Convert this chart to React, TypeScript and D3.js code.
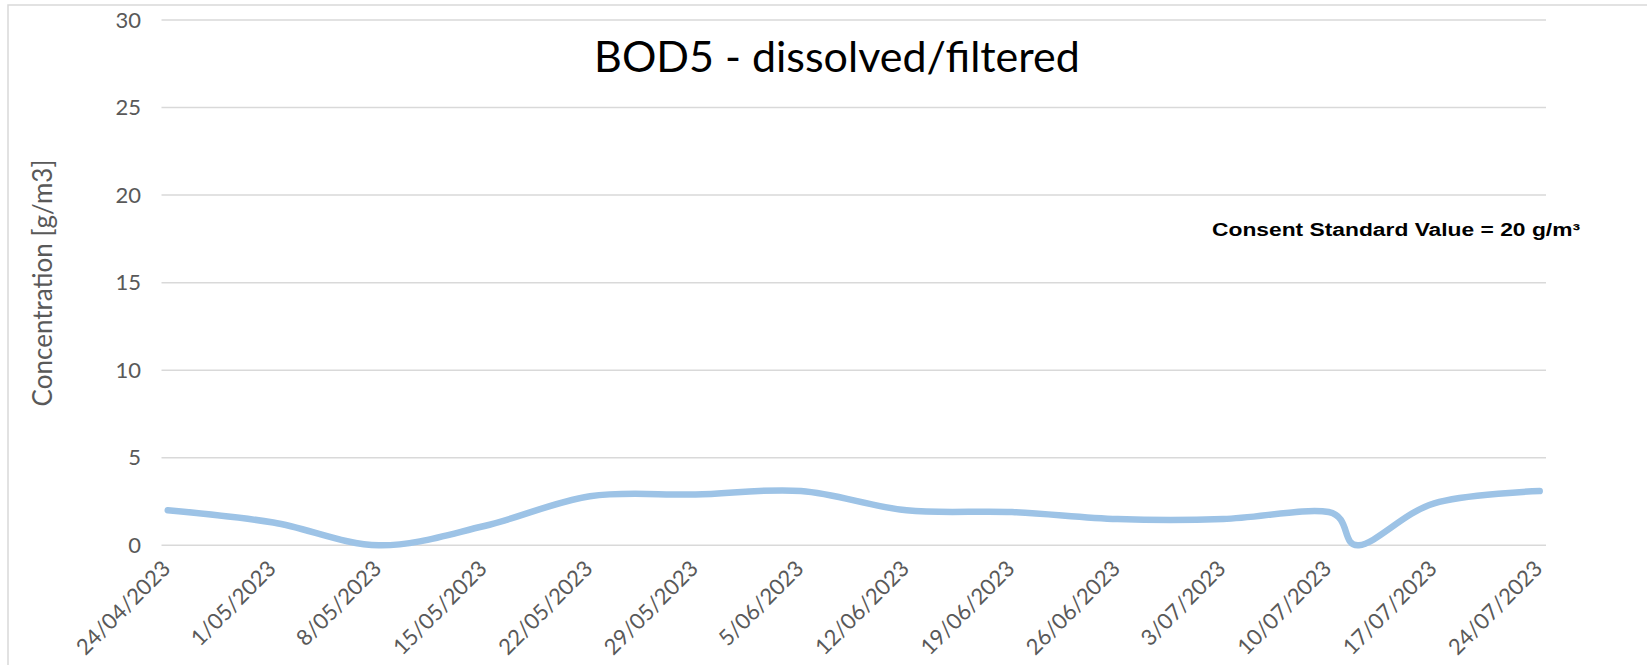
import React from "react";
import * as d3 from "d3";

// sample dates and BOD5 values (g/m3)
const sampleDates = [
	"2023-04-24", "2023-05-01", "2023-05-08", "2023-05-15", "2023-05-22",
	"2023-05-29", "2023-06-05", "2023-06-12", "2023-06-19", "2023-06-26",
	"2023-07-03", "2023-07-10", "2023-07-12", "2023-07-17", "2023-07-24",
];
const bodValues = [2.0, 1.3, 0, 1.1, 2.8, 2.9, 3.1, 2.0, 1.9, 1.5, 1.5, 1.9, 0, 2.4, 3.1];

const tickDates = [
	"2023-04-24", "2023-05-01", "2023-05-08", "2023-05-15", "2023-05-22",
	"2023-05-29", "2023-06-05", "2023-06-12", "2023-06-19", "2023-06-26",
	"2023-07-03", "2023-07-10", "2023-07-17", "2023-07-24",
];
const yTicks = [0, 5, 10, 15, 20, 25, 30];

const title = "BOD5 - dissolved/filtered";
const yTitle = "Concentration [g/m3]";
const note = "Consent Standard Value = 20 g/m³";

const W = 1647;
const H = 665;

const App: React.FC = () => {
	const parse = d3.timeParse("%Y-%m-%d");
	const fmt = d3.timeFormat("%-d/%m/%Y");
	const hour = 3600 * 1000;

	const first = parse(tickDates[0])!;
	const last = parse(tickDates[tickDates.length - 1])!;

	const x = d3
		.scaleTime()
		.domain([new Date(first.getTime() - 10 * hour), new Date(last.getTime() + 10 * hour)])
		.range([161.5, 1546]);

	const y = d3.scaleLinear().domain([0, 30]).range([545.3, 20]);

	const points = sampleDates.map((d, i) => ({date: parse(d)!, value: bodValues[i]}));

	const line = d3
		.line<{date: Date; value: number}>()
		.x((d) => x(d.date))
		.y((d) => y(d.value))
		.curve(d3.curveCardinal.tension(0));

	const gray = "#595959";
	const font = "Lato, 'Open Sans', sans-serif";

	return (
		<svg
			width={W}
			height={H}
			style={{position: "absolute", left: 0, top: 0, background: "#fff"}}
		>
			{/* chart area border */}
			<rect x={8} y={5} width={2000} height={1000} fill="#fff" stroke="#D9D9D9" strokeWidth={1.5} />

			{/* gridlines + y labels */}
			{yTicks.map((t) => (
				<g key={t}>
					<line x1={x.range()[0]} x2={x.range()[1]} y1={y(t)} y2={y(t)} stroke="#D9D9D9" strokeWidth={1.5} />
					<text x={141} y={y(t)} dy="0.35em" textAnchor="end" fontFamily={font} fontSize={22} fill={gray}>
						{t}
					</text>
				</g>
			))}

			{/* x labels */}
			{tickDates.map((d) => {
				const tx = x(parse(d)!);
				return (
					<text
						key={d}
						transform={`translate(${tx + 4}, 570) rotate(-45)`}
						textAnchor="end"
						fontFamily={font}
						fontSize={22}
						fill={gray}
					>
						{fmt(parse(d)!)}
					</text>
				);
			})}

			{/* y axis title */}
			<text
				transform={`translate(52, 283) rotate(-90)`}
				textAnchor="middle"
				fontFamily={font}
				fontSize={26}
				fill={gray}
			>
				{yTitle}
			</text>

			{/* title */}
			<text x={837} y={72} textAnchor="middle" fontFamily={font} fontSize={43} fill="#000">
				{title}
			</text>

			{/* data line */}
			<path
				d={line(points) || ""}
				fill="none"
				stroke="#9DC3E6"
				strokeWidth={6.5}
				strokeLinecap="round"
				strokeLinejoin="round"
			/>

			{/* consent standard note */}
			<text
				x={1212}
				y={236}
				fontFamily="'Liberation Sans', Arial, sans-serif"
				fontWeight="bold"
				fontSize={18}
				fill="#000"
				textLength={368}
				lengthAdjust="spacingAndGlyphs"
			>
				{note}
			</text>
		</svg>
	);
};

export default App;
